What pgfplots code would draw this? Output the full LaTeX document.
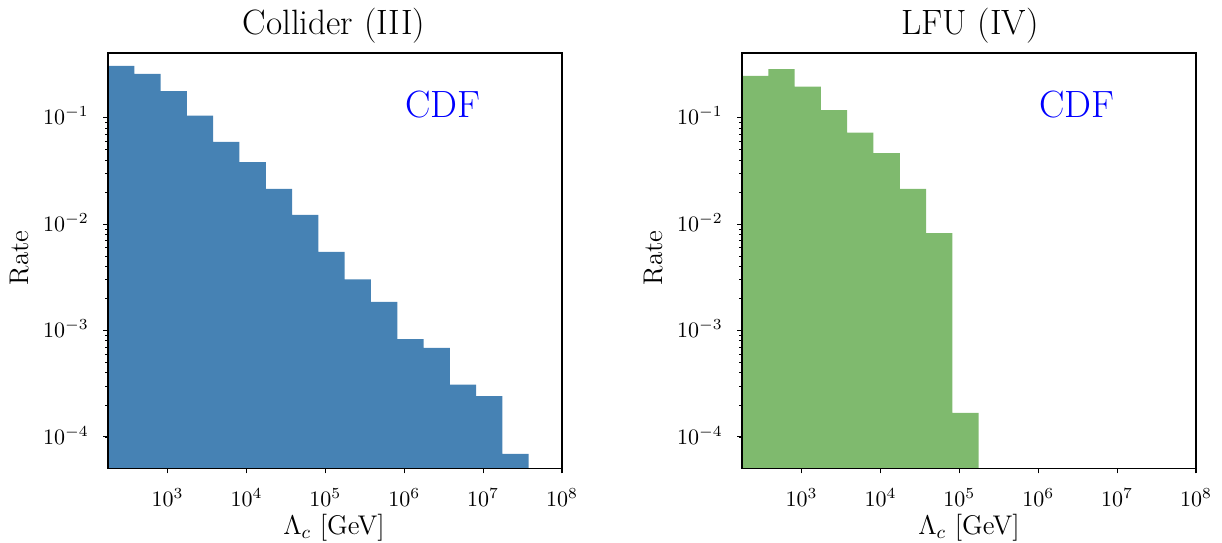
\RequirePackage{fix-cm}
\documentclass[border=0pt]{standalone}
\usepackage{pgfplots}
\usepackage{pgfplotstable}
\pgfplotsset{compat=1.18}
\definecolor{barblue}{RGB}{70,130,180}
\definecolor{bargreen}{RGB}{127,186,110}
\definecolor{cdfblue}{RGB}{0,0,255}

% step outlines of the histograms: bin left edges with heights,
% first/last rows close the shape at the bottom
\pgfplotstableread{
x y
175.8 1e-5
175.8 0.308
378.7 0.258
815.9 0.178
1758 0.1045
3787 0.0594
8159 0.0383
17579 0.0215
37873 0.01225
81594 0.0055
175792 0.00302
378733 0.00186
815935 0.00083
1757924 0.000688
3787334 0.00031
8159346 0.000242
17579236 6.93e-5
37873340 1e-5
}\collider

\pgfplotstableread{
x y
175.8 1e-5
175.8 0.248
378.7 0.287
815.9 0.196
1758 0.118
3787 0.0723
8159 0.0466
17579 0.0215
37873 0.00822
81594 0.000168
175792 1e-5
}\lfu

\begin{document}
\begin{tikzpicture}
\useasboundingbox (0,0) rectangle (611pt,271pt);

\begin{axis}[
    at={(54pt,36.75pt)}, anchor=south west,
    scale only axis, width=227pt, height=207.75pt,
    xmode=log, ymode=log,
    xmin=175.8, xmax=1e8, ymin=5.05e-5, ymax=0.406,
    xtick={1e3,1e4,1e5,1e6,1e7,1e8},
    ytick={1e-4,1e-3,1e-2,1e-1},
    xminorticks=false,
    xtick pos=left, ytick pos=left,
    tick align=outside,
    major tick length=2.45pt, minor tick length=1.4pt,
    major tick style={black, line width=0.55pt},
    minor tick style={black, line width=0.4pt},
    axis line style={line width=0.55pt, black},
    axis on top=true,
    tick label style={font=\fontsize{11}{13}\selectfont, inner sep=0pt},
    xticklabel style={anchor=base, yshift=-16.75pt},
    yticklabel style={anchor=base east, xshift=-7pt, yshift=-3.55pt},
  ]
  \addplot[const plot mark left, fill=barblue, draw=none] table[x=x,y=y] {\collider};
  \node[anchor=base west, inner sep=0pt, text=cdfblue, font=\fontsize{19}{22}\selectfont] at (axis description cs:0.654,0.8436) {CDF};
\end{axis}

\begin{axis}[
    at={(371pt,36.75pt)}, anchor=south west,
    scale only axis, width=227pt, height=207.75pt,
    xmode=log, ymode=log,
    xmin=175.8, xmax=1e8, ymin=5.05e-5, ymax=0.406,
    xtick={1e3,1e4,1e5,1e6,1e7,1e8},
    ytick={1e-4,1e-3,1e-2,1e-1},
    xminorticks=false,
    xtick pos=left, ytick pos=left,
    tick align=outside,
    major tick length=2.45pt, minor tick length=1.4pt,
    major tick style={black, line width=0.55pt},
    minor tick style={black, line width=0.4pt},
    axis line style={line width=0.55pt, black},
    axis on top=true,
    tick label style={font=\fontsize{11}{13}\selectfont, inner sep=0pt},
    xticklabel style={anchor=base, yshift=-16.75pt},
    yticklabel style={anchor=base east, xshift=-7pt, yshift=-3.55pt},
  ]
  \addplot[const plot mark left, fill=bargreen, draw=none] table[x=x,y=y] {\lfu};
  \node[anchor=base west, inner sep=0pt, text=cdfblue, font=\fontsize{19}{22}\selectfont] at (axis description cs:0.654,0.8436) {CDF};
\end{axis}

% titles
\node[anchor=base, inner sep=0pt, font=\fontsize{17.6}{21}\selectfont] at (167pt,253.5pt) {Collider (III)};
\node[anchor=base, inner sep=0pt, font=\fontsize{17.6}{21}\selectfont] at (485pt,253.5pt) {LFU (IV)};
% x labels
\node[anchor=base, inner sep=0pt, font=\fontsize{13.5}{16}\selectfont] at (167pt,4pt) {$\Lambda_c$ [GeV]};
\node[anchor=base, inner sep=0pt, font=\fontsize{13.5}{16}\selectfont] at (484.5pt,4pt) {$\Lambda_c$ [GeV]};
% y labels
\node[rotate=90, anchor=base, inner sep=0pt, font=\fontsize{13.5}{16}\selectfont] at (14pt,142pt) {Rate};
\node[rotate=90, anchor=base, inner sep=0pt, font=\fontsize{13.5}{16}\selectfont] at (331pt,142pt) {Rate};
\end{tikzpicture}
\end{document}
